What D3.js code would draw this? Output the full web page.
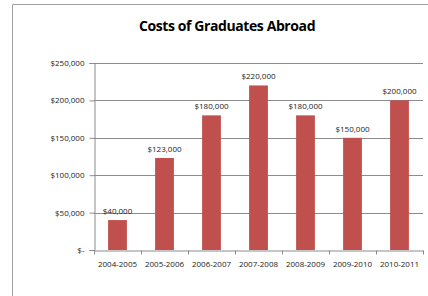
<!DOCTYPE html>
<html>
<head>
<meta charset="utf-8">
<script src="https://cdn.jsdelivr.net/npm/d3@7"></script>
<style>
  body { margin: 0; background: #fff; }
  text { font-family: "Open Sans", "Liberation Sans", sans-serif; }
</style>
</head>
<body>
<svg id="chart"></svg>
<script>
const years = ["2004-2005", "2005-2006", "2006-2007", "2007-2008", "2008-2009", "2009-2010", "2010-2011"];
const costs = [40000, 123000, 180000, 220000, 180000, 150000, 200000];
const yTicks = [0, 50000, 100000, 150000, 200000, 250000];

const width = 428;
const height = 296;
const margin = { top: 63, right: 5, bottom: 46, left: 94 };

const svg = d3.select("#chart").attr("width", width).attr("height", height);

// chart frame (top and left edges visible)
svg.append("line")
  .attr("x1", 12.5).attr("x2", width).attr("y1", 4.5).attr("y2", 4.5)
  .attr("stroke", "#a0a0a0");
svg.append("line")
  .attr("x1", 12.5).attr("x2", 12.5).attr("y1", 4.5).attr("y2", height)
  .attr("stroke", "#a0a0a0");

svg.append("text")
  .attr("x", 227)
  .attr("y", 31)
  .attr("text-anchor", "middle")
  .attr("font-size", 14)
  .attr("font-weight", "bold")
  .attr("letter-spacing", -0.4)
  .attr("fill", "#000")
  .text("Costs of Graduates Abroad");

const xScale = d3.scaleBand()
  .domain(years)
  .range([margin.left, width - margin.right])
  .paddingInner(0.6)
  .paddingOuter(0.3);

const yScale = d3.scaleLinear()
  .domain([0, 250000])
  .range([height - margin.bottom, margin.top]);

const fmt = d3.format(",");
const money = (v) => (v === 0 ? "$-" : "$" + fmt(v));
const labelSize = 8;

// gridlines
svg.append("g")
  .selectAll("line")
  .data(yTicks.filter((d) => d > 0))
  .join("line")
  .attr("x1", margin.left)
  .attr("x2", width - margin.right)
  .attr("y1", (d) => Math.round(yScale(d)) + 0.5)
  .attr("y2", (d) => Math.round(yScale(d)) + 0.5)
  .attr("stroke", "#8c8c8c");

// y axis
const yAxis = d3.axisLeft(yScale)
  .tickValues(yTicks)
  .tickSize(5)
  .tickPadding(5)
  .tickFormat(money);

svg.append("g")
  .attr("transform", `translate(${margin.left + 0.5}, 0)`)
  .call(yAxis)
  .call((g) => g.select(".domain").attr("stroke", "#8c8c8c"))
  .call((g) => g.selectAll(".tick line").attr("stroke", "#8c8c8c"))
  .call((g) => g.selectAll(".tick text")
    .attr("font-size", labelSize)
    .attr("fill", "#222")
    .style("font-family", "'Open Sans', sans-serif"));

// bars
svg.append("g")
  .selectAll("rect")
  .data(costs)
  .join("rect")
  .attr("x", (d, i) => xScale(years[i]))
  .attr("y", (d) => yScale(d))
  .attr("width", xScale.bandwidth())
  .attr("height", (d) => yScale(0) - yScale(d))
  .attr("fill", "#c0504d");

// value labels
svg.append("g")
  .selectAll("text")
  .data(costs)
  .join("text")
  .attr("x", (d, i) => xScale(years[i]) + xScale.bandwidth() / 2)
  .attr("y", (d) => yScale(d) - 6)
  .attr("text-anchor", "middle")
  .attr("font-size", labelSize)
  .attr("fill", "#222")
  .text(money);

// x axis
const step = xScale.step();
const xAxis = d3.axisBottom(xScale).tickSize(0).tickPadding(11);
const xg = svg.append("g")
  .attr("transform", `translate(0, ${Math.round(yScale(0)) + 0.5})`)
  .call(xAxis);
xg.select(".domain").attr("stroke", "#8c8c8c");
xg.selectAll(".tick text")
  .attr("font-size", labelSize)
  .attr("fill", "#222")
  .style("font-family", "'Open Sans', sans-serif");
xg.selectAll(".sep")
  .data(d3.range(years.length + 1))
  .join("line")
  .attr("class", "sep")
  .attr("x1", (i) => Math.round(margin.left + i * step) + 0.5)
  .attr("x2", (i) => Math.round(margin.left + i * step) + 0.5)
  .attr("y1", 0)
  .attr("y2", 4)
  .attr("stroke", "#8c8c8c");
</script>
</body>
</html>
